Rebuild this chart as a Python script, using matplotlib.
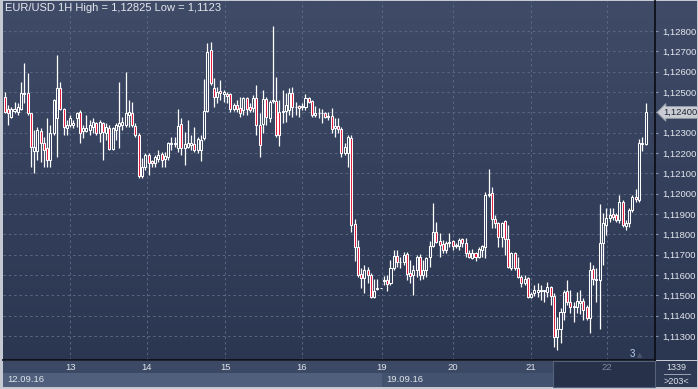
import numpy as np
import matplotlib
matplotlib.use("Agg")
import matplotlib.pyplot as plt
from matplotlib.colors import LinearSegmentedColormap
from matplotlib.patches import Rectangle
from matplotlib.transforms import blended_transform_factory

# EUR/USD hourly candles (open, high, low, close)
opens = [
    1.12475, 1.12416, 1.12377, 1.12407, 1.12402, 1.12416, 1.12490, 1.12495, 1.12397, 1.12210,
    1.12210, 1.12308, 1.12249, 1.12225, 1.12166, 1.12298, 1.12372, 1.12520, 1.12416, 1.12323,
    1.12338, 1.12338, 1.12372, 1.12402, 1.12308, 1.12308, 1.12313, 1.12328, 1.12348, 1.12298,
    1.12348, 1.12298, 1.12323, 1.12220, 1.12313, 1.12333, 1.12338, 1.12338, 1.12387, 1.12397,
    1.12333, 1.12289, 1.12087, 1.12131, 1.12190, 1.12161, 1.12151, 1.12170, 1.12195, 1.12170,
    1.12180, 1.12244, 1.12244, 1.12225, 1.12343, 1.12225, 1.12230, 1.12239, 1.12244, 1.12215,
    1.12215, 1.12274, 1.12407, 1.12707, 1.12520, 1.12475, 1.12505, 1.12490, 1.12490, 1.12490,
    1.12416, 1.12436, 1.12421, 1.12411, 1.12470, 1.12426, 1.12421, 1.12470, 1.12338, 1.12343,
    1.12466, 1.12372, 1.12456, 1.12456, 1.12402, 1.12402, 1.12407, 1.12411, 1.12495, 1.12426,
    1.12431, 1.12426, 1.12426, 1.12470, 1.12456, 1.12387, 1.12397, 1.12397, 1.12397, 1.12377,
    1.12382, 1.12323, 1.12333, 1.12318, 1.12200, 1.12200, 1.12274, 1.11851, 1.11738, 1.11605,
    1.11585, 1.11625, 1.11600, 1.11492, 1.11531, 1.11536, 1.11570, 1.11575, 1.11561, 1.11634,
    1.11693, 1.11664, 1.11664, 1.11703, 1.11610, 1.11600, 1.11625, 1.11689, 1.11600, 1.11625,
    1.11689, 1.11743, 1.11811, 1.11767, 1.11752, 1.11723, 1.11757, 1.11767, 1.11743, 1.11743,
    1.11777, 1.11757, 1.11708, 1.11684, 1.11708, 1.11689, 1.11723, 1.11738, 1.11993, 1.12003,
    1.11875, 1.11856, 1.11787, 1.11866, 1.11777, 1.11634, 1.11708, 1.11634, 1.11590, 1.11561,
    1.11585, 1.11492, 1.11511, 1.11516, 1.11521, 1.11521, 1.11516, 1.11541, 1.11497, 1.11295,
    1.11334, 1.11418, 1.11521, 1.11467, 1.11443, 1.11443, 1.11462, 1.11472, 1.11443, 1.11388,
    1.11629, 1.11580, 1.11575, 1.11757, 1.11846, 1.11880, 1.11900, 1.11895, 1.11870, 1.11959,
    1.11841, 1.11856, 1.11920, 1.11984, 1.11969, 1.12244, 1.12244,
]
highs = [
    1.12500, 1.12436, 1.12426, 1.12451, 1.12446, 1.12549, 1.12643, 1.12593, 1.12397, 1.12313,
    1.12328, 1.12323, 1.12279, 1.12372, 1.12338, 1.12466, 1.12682, 1.12549, 1.12421, 1.12362,
    1.12387, 1.12362, 1.12402, 1.12411, 1.12338, 1.12387, 1.12362, 1.12372, 1.12352, 1.12362,
    1.12352, 1.12348, 1.12338, 1.12328, 1.12348, 1.12549, 1.12377, 1.12598, 1.12461, 1.12451,
    1.12348, 1.12298, 1.12175, 1.12200, 1.12200, 1.12166, 1.12190, 1.12215, 1.12205, 1.12205,
    1.12254, 1.12279, 1.12279, 1.12416, 1.12372, 1.12303, 1.12362, 1.12289, 1.12328, 1.12279,
    1.12289, 1.12564, 1.12741, 1.12746, 1.12569, 1.12525, 1.12559, 1.12510, 1.12500, 1.12495,
    1.12446, 1.12461, 1.12475, 1.12475, 1.12475, 1.12446, 1.12485, 1.12534, 1.12397, 1.12510,
    1.12475, 1.12461, 1.12825, 1.12574, 1.12461, 1.12510, 1.12495, 1.12520, 1.12525, 1.12451,
    1.12436, 1.12446, 1.12490, 1.12475, 1.12461, 1.12431, 1.12421, 1.12416, 1.12402, 1.12402,
    1.12421, 1.12372, 1.12372, 1.12328, 1.12249, 1.12289, 1.12289, 1.11875, 1.11772, 1.11634,
    1.11649, 1.11639, 1.11610, 1.11580, 1.11580, 1.11536, 1.11595, 1.11600, 1.11674, 1.11723,
    1.11723, 1.11689, 1.11713, 1.11713, 1.11674, 1.11649, 1.11698, 1.11703, 1.11674, 1.11689,
    1.11767, 1.11954, 1.11861, 1.11807, 1.11772, 1.11767, 1.11807, 1.11772, 1.11757, 1.11782,
    1.11782, 1.11782, 1.11723, 1.11728, 1.11713, 1.11738, 1.11748, 1.12008, 1.12121, 1.12033,
    1.11895, 1.11861, 1.11861, 1.11870, 1.11846, 1.11713, 1.11713, 1.11689, 1.11600, 1.11600,
    1.11590, 1.11516, 1.11551, 1.11561, 1.11551, 1.11526, 1.11565, 1.11546, 1.11511, 1.11393,
    1.11438, 1.11526, 1.11575, 1.11526, 1.11467, 1.11516, 1.11526, 1.11487, 1.11452, 1.11664,
    1.11649, 1.11634, 1.11949, 1.11905, 1.11929, 1.11929, 1.11929, 1.11905, 1.11993, 1.11969,
    1.11870, 1.11929, 1.11993, 1.12023, 1.12269, 1.12279, 1.12446,
]
lows = [
    1.12397, 1.12338, 1.12372, 1.12397, 1.12387, 1.12411, 1.12446, 1.12387, 1.12131, 1.12102,
    1.12166, 1.12156, 1.12131, 1.12131, 1.12131, 1.12289, 1.12180, 1.12411, 1.12289, 1.12289,
    1.12328, 1.12323, 1.12328, 1.12249, 1.12274, 1.12303, 1.12289, 1.12298, 1.12289, 1.12254,
    1.12166, 1.12264, 1.12215, 1.12215, 1.12264, 1.12225, 1.12313, 1.12328, 1.12328, 1.12328,
    1.12279, 1.12077, 1.12077, 1.12116, 1.12092, 1.12131, 1.12131, 1.12156, 1.12131, 1.12131,
    1.12166, 1.12215, 1.12230, 1.12205, 1.12190, 1.12141, 1.12225, 1.12215, 1.12205, 1.12200,
    1.12161, 1.12264, 1.12402, 1.12534, 1.12426, 1.12446, 1.12461, 1.12451, 1.12446, 1.12402,
    1.12407, 1.12402, 1.12377, 1.12387, 1.12387, 1.12402, 1.12402, 1.12289, 1.12180, 1.12298,
    1.12338, 1.12352, 1.12446, 1.12279, 1.12234, 1.12348, 1.12352, 1.12387, 1.12377, 1.12387,
    1.12377, 1.12411, 1.12411, 1.12446, 1.12377, 1.12377, 1.12372, 1.12348, 1.12372, 1.12362,
    1.12298, 1.12279, 1.12298, 1.12180, 1.12190, 1.12131, 1.11811, 1.11669, 1.11590, 1.11536,
    1.11511, 1.11561, 1.11487, 1.11487, 1.11526, 1.11536, 1.11551, 1.11521, 1.11551, 1.11625,
    1.11639, 1.11634, 1.11649, 1.11575, 1.11561, 1.11502, 1.11590, 1.11575, 1.11580, 1.11590,
    1.11639, 1.11738, 1.11757, 1.11689, 1.11708, 1.11708, 1.11738, 1.11723, 1.11733, 1.11723,
    1.11738, 1.11689, 1.11684, 1.11679, 1.11669, 1.11684, 1.11689, 1.11684, 1.11984, 1.11831,
    1.11831, 1.11738, 1.11738, 1.11698, 1.11634, 1.11625, 1.11625, 1.11585, 1.11541, 1.11551,
    1.11487, 1.11487, 1.11497, 1.11492, 1.11477, 1.11467, 1.11492, 1.11452, 1.11246, 1.11230,
    1.11266, 1.11379, 1.11452, 1.11413, 1.11369, 1.11413, 1.11408, 1.11379, 1.11379, 1.11315,
    1.11551, 1.11467, 1.11334, 1.11649, 1.11797, 1.11861, 1.11870, 1.11861, 1.11856, 1.11836,
    1.11821, 1.11836, 1.11910, 1.11959, 1.11959, 1.12210, 1.12239,
]
closes = [
    1.12402, 1.12397, 1.12416, 1.12416, 1.12426, 1.12495, 1.12495, 1.12397, 1.12230, 1.12230,
    1.12313, 1.12249, 1.12215, 1.12166, 1.12298, 1.12461, 1.12520, 1.12416, 1.12328, 1.12338,
    1.12372, 1.12348, 1.12397, 1.12298, 1.12323, 1.12323, 1.12338, 1.12352, 1.12298, 1.12352,
    1.12303, 1.12328, 1.12220, 1.12323, 1.12338, 1.12348, 1.12352, 1.12397, 1.12402, 1.12338,
    1.12289, 1.12087, 1.12131, 1.12190, 1.12151, 1.12151, 1.12180, 1.12190, 1.12166, 1.12185,
    1.12249, 1.12249, 1.12249, 1.12333, 1.12225, 1.12244, 1.12249, 1.12249, 1.12215, 1.12269,
    1.12264, 1.12407, 1.12697, 1.12544, 1.12475, 1.12500, 1.12495, 1.12500, 1.12480, 1.12416,
    1.12436, 1.12416, 1.12397, 1.12470, 1.12416, 1.12411, 1.12470, 1.12338, 1.12239, 1.12466,
    1.12377, 1.12451, 1.12461, 1.12289, 1.12289, 1.12407, 1.12436, 1.12495, 1.12426, 1.12426,
    1.12421, 1.12431, 1.12470, 1.12451, 1.12387, 1.12397, 1.12397, 1.12397, 1.12377, 1.12382,
    1.12318, 1.12333, 1.12318, 1.12200, 1.12230, 1.12279, 1.11846, 1.11738, 1.11600, 1.11585,
    1.11625, 1.11600, 1.11492, 1.11521, 1.11536, 1.11536, 1.11575, 1.11556, 1.11634, 1.11693,
    1.11664, 1.11664, 1.11698, 1.11605, 1.11595, 1.11625, 1.11689, 1.11600, 1.11625, 1.11684,
    1.11743, 1.11811, 1.11762, 1.11748, 1.11723, 1.11757, 1.11762, 1.11743, 1.11748, 1.11772,
    1.11757, 1.11708, 1.11689, 1.11708, 1.11689, 1.11728, 1.11743, 1.11993, 1.11998, 1.11875,
    1.11856, 1.11787, 1.11856, 1.11777, 1.11639, 1.11708, 1.11634, 1.11590, 1.11561, 1.11580,
    1.11492, 1.11507, 1.11526, 1.11526, 1.11526, 1.11526, 1.11541, 1.11497, 1.11295, 1.11334,
    1.11418, 1.11516, 1.11467, 1.11443, 1.11448, 1.11472, 1.11472, 1.11428, 1.11388, 1.11625,
    1.11580, 1.11575, 1.11757, 1.11856, 1.11880, 1.11895, 1.11885, 1.11870, 1.11959, 1.11846,
    1.11856, 1.11920, 1.11984, 1.11974, 1.12249, 1.12249, 1.12400,
]

# day separators (bar position where each day begins) and their labels
day_pos = [20.0, 43.5, 67.4, 90.9, 115.4, 137.1, 160.9, 184.2]
day_labels = ["13", "14", "15", "16", "19", "20", "21", "22"]
week_labels = ["12.09.16", "19.09.16"]
week_pos = [-0.5, 115.4]
scroll_end = 167.7
price_ticks = [1.113, 1.114, 1.115, 1.116, 1.117, 1.118, 1.119, 1.120,
               1.121, 1.122, 1.123, 1.124, 1.125, 1.126, 1.127, 1.128]

W, H = 698, 389

def fx(px):
    return px / W

def fy(py):
    return 1 - py / H

def fmt(v, nd=5):
    return f"{v:.{nd}f}".replace(".", ",")

fig = plt.figure(figsize=(W / 100, H / 100), dpi=100)
fig.patch.set_facecolor("#c5cad2")

# gradient background behind chart + price scale
bg = fig.add_axes([fx(3), fy(360), fx(694), 359 / H])
cmap = LinearSegmentedColormap.from_list("bg", ["#2b3651", "#3f4b67"])
bg.imshow(np.linspace(0, 1, 256).reshape(-1, 1), aspect="auto", cmap=cmap,
          extent=[0, 1, 0, 1], origin="lower")
bg.axis("off")

ax = fig.add_axes([fx(3), fy(360), fx(652), 359 / H])
ax.set_facecolor("none")

x = np.arange(len(opens))
o = np.array(opens)
c = np.array(closes)
ax.vlines(x, lows, highs, color="white", lw=0.9, zorder=3)
body_lo = np.minimum(o, c)
body_h = np.abs(c - o)
fills = ["#e3173b" if cc < oo else "#36425d" for oo, cc in zip(o, c)]
ax.bar(x, body_h, bottom=body_lo, width=0.62, color=fills,
       edgecolor="white", linewidth=0.75, zorder=4)

ax.set_xlim(-0.52, 198.9)
ax.set_ylim(1.11182, 1.12948)

ax.set_yticks(price_ticks)
ax.set_yticklabels([fmt(t) for t in price_ticks])
ax.yaxis.tick_right()
ax.tick_params(axis="y", length=2.5, width=0.8, color="#8793aa", pad=3,
               labelsize=6.8, labelcolor="#e4e8ef")
ax.set_xticks(day_pos)
ax.tick_params(axis="x", length=0, labelbottom=False)
for lab in ax.get_yticklabels():
    lab.set_fontfamily("Liberation Sans")
ax.grid(True, color="#5a6884", linestyle=(0, (2.5, 3)), lw=0.7, zorder=1)

for s in ["top", "left"]:
    ax.spines[s].set_visible(False)
for s in ["right", "bottom"]:
    ax.spines[s].set_color("#0d1018")
    ax.spines[s].set_linewidth(1.3)

# current price marker on the scale
last = closes[-1]
ax.annotate(fmt(last), xy=(1.0, last), xycoords=("axes fraction", "data"),
            xytext=(6, 0), textcoords="offset points", va="center", ha="left",
            fontsize=6.8, family="Liberation Sans", color="#1e2535",
            bbox=dict(boxstyle="larrow,pad=0.15", fc="#c9ccd2", ec="#9aa0aa", lw=0.6),
            zorder=10, annotation_clip=False)

# time axis panels
tb = blended_transform_factory(ax.transData, fig.transFigure)
fig.add_artist(Rectangle((-0.52, fy(373)), scroll_end + 0.52, fy(361) - fy(373),
                         transform=tb, fc="#3c4965", ec="none"))
fig.add_artist(Rectangle((week_pos[0], fy(387)), week_pos[1] - week_pos[0], fy(373) - fy(387),
                         transform=tb, fc="#4f5f7c", ec="none"))
fig.add_artist(Rectangle((week_pos[1], fy(387)), scroll_end - week_pos[1], fy(373) - fy(387),
                         transform=tb, fc="#43526e", ec="none"))
fig.add_artist(Rectangle((scroll_end, fy(387)), 198.9 - scroll_end, fy(361) - fy(387),
                         transform=tb, fc="#27314a", ec="#55627c", lw=0.8))
fig.add_artist(Rectangle((fx(656), fy(387)), fx(41), fy(361) - fy(387),
                         transform=fig.transFigure, fc="#2e3953", ec="none"))

for p, lab in zip(day_pos, day_labels):
    col = "#7f8aa0" if p > scroll_end else "#dfe4ec"
    fig.text(p, fy(367), lab, transform=tb, ha="center", va="center",
             fontsize=6.8, family="Liberation Sans", color=col)
for p, lab in zip(week_pos, week_labels):
    fig.text(p + 1.2, fy(380), lab, transform=tb, ha="left", va="center",
             fontsize=6.8, family="Liberation Sans", color="#dfe4ec")

fig.text(fx(676), fy(368), "1339", ha="center", va="center", fontsize=6.5,
         family="Liberation Sans", color="#dfe4ec")
fig.add_artist(plt.Line2D([fx(664), fx(690)], [fy(374), fy(374)], color="#9aa3b5", lw=0.7))
fig.text(fx(676), fy(381), ">203<", ha="center", va="center", fontsize=6.5,
         family="Liberation Sans", color="#dfe4ec")

fig.text(fx(632), fy(354), "3", ha="center", va="center", fontsize=7,
         family="Liberation Sans", color="#b9d3f2")
fig.text(fx(640), fy(355), "\u25b2", ha="center", va="center", fontsize=5,
         color="#4b566e")

title = f"EUR/USD 1H High = {fmt(max(highs))} Low = {fmt(min(lows)).rstrip('0')}"
fig.text(fx(5), fy(8), title, ha="left", va="center", fontsize=8,
         family="Liberation Sans", color="#e4e8ef")

fig.savefig("out.png", dpi=100, facecolor=fig.get_facecolor())
